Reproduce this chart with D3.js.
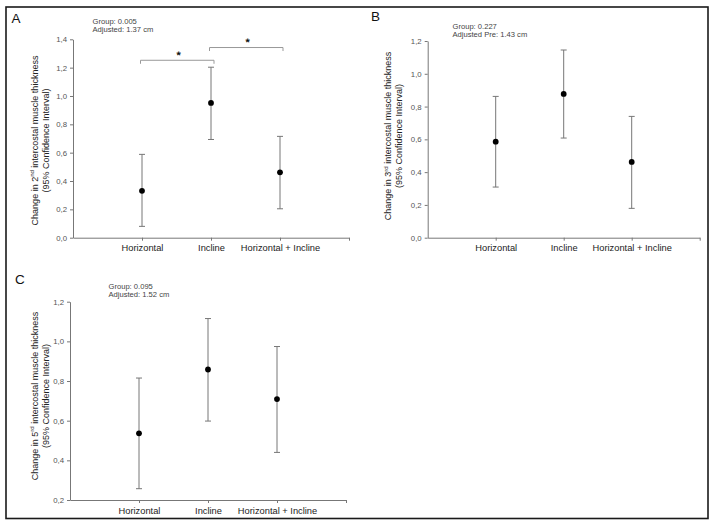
<!DOCTYPE html>
<html><head><meta charset="utf-8">
<script src="https://cdn.jsdelivr.net/npm/d3@7"></script>
<style>
html,body{margin:0;padding:0;background:#fff;}
svg{display:block;font-family:"Liberation Sans",Arial,sans-serif;}
</style></head>
<body><svg id="chart" width="715" height="526"></svg>
<script>
// ---------- data ----------
const categories = ["Horizontal", "Incline", "Horizontal + Incline"];

const meanA = [0.331, 0.951, 0.461];
const lowA  = [0.080, 0.693, 0.204];
const highA = [0.588, 1.203, 0.715];
const ticksA = [0, 0.2, 0.4, 0.6, 0.8, 1.0, 1.2, 1.4];
const notesA = ["Group: 0.005", "Adjusted: 1.37 cm"];
const ordinalA = ["2", "nd"];
const bracketsA = [{from: 0, to: 1, level: 1.252}, {from: 1, to: 2, level: 1.342}];

const meanB = [0.586, 0.877, 0.462];
const lowB  = [0.309, 0.608, 0.179];
const highB = [0.862, 1.145, 0.740];
const ticksB = [0, 0.2, 0.4, 0.6, 0.8, 1.0, 1.2];
const notesB = ["Group: 0.227", "Adjusted Pre: 1.43 cm"];
const ordinalB = ["3", "rd"];

const meanC = [0.536, 0.858, 0.709];
const lowC  = [0.257, 0.598, 0.440];
const highC = [0.815, 1.115, 0.974];
const ticksC = [0.2, 0.4, 0.6, 0.8, 1.0, 1.2];
const notesC = ["Group: 0.095", "Adjusted: 1.52 cm"];
const ordinalC = ["5", "rd"];

const panelLetters = ["A", "B", "C"];
const titleRest = " intercostal muscle thickness";
const titleLine2 = "(95% Confidence Interval)";

// ---------- drawing ----------
const svg = d3.select("#chart");
svg.append("rect").attr("x", 6).attr("y", 7).attr("width", 702).attr("height", 511.5)
  .attr("fill", "none").attr("stroke", "#1a1a1a").attr("stroke-width", 1.6);

function panel(cfg) {
  const g = svg.append("g");
  const x = d3.scaleLinear().domain([0, 4]).range([cfg.x0, cfg.x1]);
  const y = d3.scaleLinear().domain([cfg.ticks[0], cfg.ticks[cfg.ticks.length - 1]]).range([cfg.yB, cfg.yT]);

  const yAx = g.append("g").attr("transform", `translate(${cfg.x0},0)`)
    .call(d3.axisLeft(y).tickValues(cfg.ticks).tickSize(3).tickSizeOuter(0).tickPadding(3)
      .tickFormat(d => d3.format(".1f")(d).replace(".", ",")));
  yAx.selectAll("text").attr("font-size", 7.8).attr("fill", "#555").attr("font-family", "Liberation Sans, Arial, sans-serif");

  const xAx = g.append("g").attr("transform", `translate(0,${cfg.yB})`)
    .call(d3.axisBottom(x).tickValues([1, 2, 3, 4]).tickSize(3).tickSizeOuter(0).tickPadding(4)
      .tickFormat(d => categories[d - 1] || ""));
  xAx.selectAll("text").attr("font-size", 9.3).attr("fill", "#222").attr("font-family", "Liberation Sans, Arial, sans-serif");

  g.selectAll(".domain, .tick line").attr("stroke", "#777").attr("stroke-width", 1);

  // error bars
  const idx = d3.range(categories.length);
  g.selectAll(".eb").data(idx).join("line")
    .attr("x1", i => x(i + 1)).attr("x2", i => x(i + 1))
    .attr("y1", i => y(cfg.low[i])).attr("y2", i => y(cfg.high[i]))
    .attr("stroke", "#777").attr("stroke-width", 1);
  [cfg.low, cfg.high].forEach(arr => {
    g.selectAll(null).data(idx).join("line")
      .attr("x1", i => x(i + 1) - 3).attr("x2", i => x(i + 1) + 3)
      .attr("y1", i => y(arr[i])).attr("y2", i => y(arr[i]))
      .attr("stroke", "#777").attr("stroke-width", 1);
  });
  g.selectAll(".pt").data(idx).join("circle")
    .attr("cx", i => x(i + 1)).attr("cy", i => y(cfg.mean[i])).attr("r", 2.9).attr("fill", "#000");

  // brackets
  (cfg.brackets || []).forEach(b => {
    const xa = x(b.from + 1) - 1.5, xb = x(b.to + 1) + 3, yy = y(b.level);
    g.append("path").attr("d", `M${xa},${yy + 3.5}V${yy}H${xb}V${yy + 3.5}`)
      .attr("fill", "none").attr("stroke", "#999").attr("stroke-width", 1);
    g.append("text").attr("x", (xa + xb) / 2 + 1.5).attr("y", yy - 1.5).attr("text-anchor", "middle")
      .attr("font-size", 11).attr("font-weight", "bold").attr("fill", "#111")
      .style("text-rendering", "geometricPrecision").text("*");
  });

  // panel letter
  g.append("text").attr("x", cfg.lx).attr("y", cfg.ly).attr("font-size", 13.5).attr("fill", "#111").text(cfg.letter);

  // notes
  cfg.notes.forEach((t, i) => {
    g.append("text").attr("x", cfg.nx).attr("y", cfg.ny + i * 8.7).attr("font-size", 7.6).attr("fill", "#444").text(t);
  });

  // y title
  const t1 = g.append("text").attr("transform", `translate(${cfg.tx},${cfg.tc}) rotate(-90)`)
    .attr("text-anchor", "middle").attr("font-size", 9).attr("fill", "#222");
  t1.append("tspan").text("Change in " + cfg.ordinal[0]);
  t1.append("tspan").attr("dy", -3.2).attr("font-size", 6).text(cfg.ordinal[1]);
  t1.append("tspan").attr("dy", 3.2).text(titleRest);
  g.append("text").attr("transform", `translate(${cfg.tx + 11.4},${cfg.tc}) rotate(-90)`)
    .attr("text-anchor", "middle").attr("font-size", 9).attr("fill", "#222").text(titleLine2);
}

panel({letter: panelLetters[0], x0: 73, x1: 349, yT: 39.3, yB: 237.7, ticks: ticksA,
  mean: meanA, low: lowA, high: highA, notes: notesA, ordinal: ordinalA, brackets: bracketsA,
  lx: 11.5, ly: 22.5, nx: 92.5, ny: 23.5, tx: 37.5, tc: 140.5});
panel({letter: panelLetters[1], x0: 427.7, x1: 699.7, yT: 41, yB: 237.7, ticks: ticksB,
  mean: meanB, low: lowB, high: highB, notes: notesB, ordinal: ordinalB,
  lx: 371, ly: 21, nx: 452.5, ny: 28.5, tx: 390.7, tc: 136});
panel({letter: panelLetters[2], x0: 70, x1: 346, yT: 301.7, yB: 500, ticks: ticksC,
  mean: meanC, low: lowC, high: highC, notes: notesC, ordinal: ordinalC,
  lx: 15, ly: 284, nx: 108.5, ny: 288.5, tx: 37.5, tc: 396});
</script>
</body></html>
